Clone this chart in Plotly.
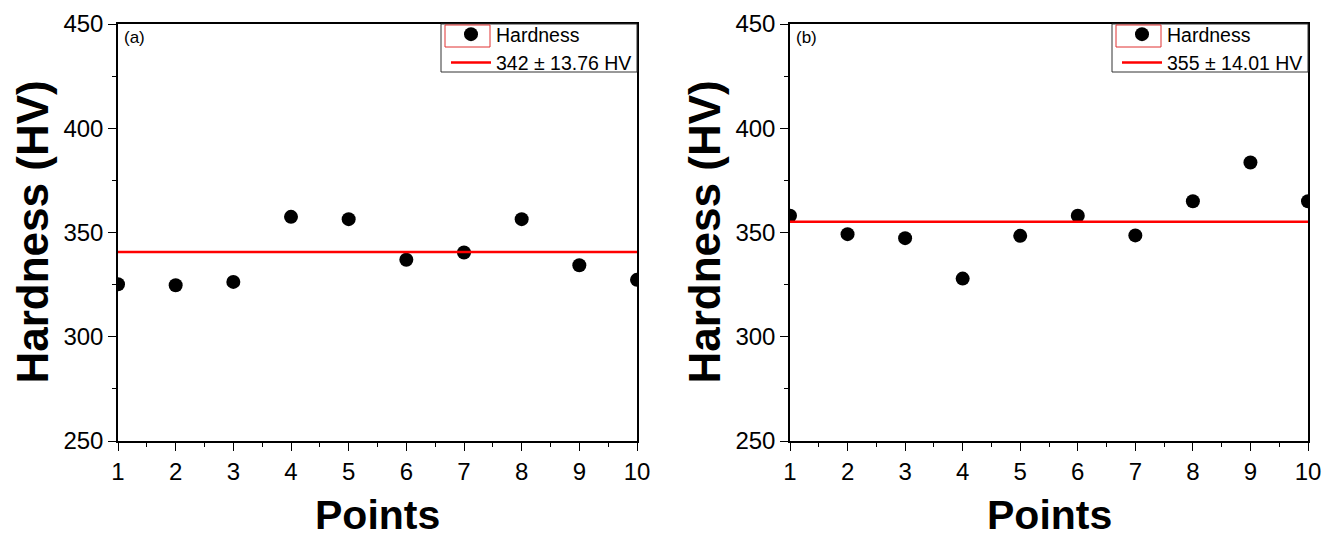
import plotly.graph_objects as go

points = [1, 2, 3, 4, 5, 6, 7, 8, 9, 10]
hardness_a = [325.2, 324.7, 326.3, 357.5, 356.4, 336.9, 340.4, 356.4, 334.3, 327.3]
hardness_b = [358.0, 349.2, 347.3, 327.9, 348.4, 358.0, 348.6, 365.0, 383.6, 365.0]
mean_a = 340.6
mean_b = 355.1
legend_a = "342 ± 13.76 HV"
legend_b = "355 ± 14.01 HV"
panel_labels = ["(a)", "(b)"]
y_ticks = [250, 300, 350, 400, 450]
x_ticks = points

FONT = "Liberation Sans, Arial, sans-serif"
fig = go.Figure()

panels = [
    (hardness_a, mean_a, legend_a, "x", "y", "legend"),
    (hardness_b, mean_b, legend_b, "x2", "y2", "legend2"),
]
for vals, mean, lab, xa, ya, lg in panels:
    fig.add_trace(go.Scatter(
        x=points, y=vals, mode="markers", name="Hardness",
        marker=dict(color="black", size=14, symbol="circle"),
        xaxis=xa, yaxis=ya, legend=lg))
    fig.add_trace(go.Scatter(
        x=[points[0], points[-1]], y=[mean, mean], mode="lines", name=lab,
        line=dict(color="#ff0000", width=2.5),
        xaxis=xa, yaxis=ya, legend=lg))

W, H = 1322, 535


def px(x):
    return x / W


def py(y):
    return 1 - y / H


doms_x = [(px(118), px(637)), (px(790), px(1308))]
dom_y = (py(441), py(24))

axis_common = dict(
    showline=True, linecolor="black", linewidth=1.5, mirror=True,
    ticks="outside", ticklen=8, tickwidth=1.3, tickcolor="black",
    showgrid=False, zeroline=False,
    tickfont=dict(family=FONT, size=24, color="black"),
)

layout = dict(
    width=W, height=H,
    margin=dict(l=0, r=0, t=0, b=0, autoexpand=False),
    paper_bgcolor="white", plot_bgcolor="white",
    showlegend=True,
)
for i, (dx, suf) in enumerate(zip(doms_x, ["", "2"])):
    layout["xaxis" + suf] = dict(
        axis_common, domain=list(dx), range=[1, 10], tickvals=x_ticks,
        minor=dict(ticks="outside", ticklen=4, tickcolor="black", dtick=0.5, tick0=1),
        anchor="y" + suf)
    layout["yaxis" + suf] = dict(
        axis_common, domain=list(dom_y), range=[250, 450], tickvals=y_ticks,
        minor=dict(ticks="outside", ticklen=4, tickcolor="black", dtick=25, tick0=250),
        anchor="x" + suf)
    layout["legend" + ("" if i == 0 else "2")] = dict(
        x=dx[1], y=py(15), xanchor="right", yanchor="top",
        xref="paper", yref="paper",
        borderwidth=0, bgcolor="rgba(255,255,255,0)",
        font=dict(family=FONT, size=19.5, color="black"),
        tracegroupgap=0, itemwidth=40)

fig.update_layout(**layout)

annotations = []
shapes = []
rights = [637, 1308]
title_x = [32, 704]
for i, dx in enumerate(doms_x):
    annotations.append(dict(
        text=panel_labels[i], x=dx[0] + 4 / W, y=dom_y[1] - 2 / H,
        xref="paper", yref="paper", xanchor="left", yanchor="top",
        showarrow=False, font=dict(family=FONT, size=17, color="black")))
    annotations.append(dict(
        text="<b>Points</b>", x=(dx[0] + dx[1]) / 2, y=py(515),
        xref="paper", yref="paper", xanchor="center", yanchor="middle",
        showarrow=False, font=dict(family=FONT, size=41, color="black")))
    annotations.append(dict(
        text="<b>Hardness (HV)</b>", x=px(title_x[i]), y=(dom_y[0] + dom_y[1]) / 2,
        xref="paper", yref="paper", xanchor="center", yanchor="middle",
        textangle=-90, showarrow=False,
        font=dict(family=FONT, size=44, color="black")))
    r = rights[i]
    # legend frame
    shapes.append(dict(
        type="rect", xref="paper", yref="paper",
        x0=px(r - 196), x1=px(r), y0=py(72), y1=py(24),
        line=dict(color="#333333", width=1), fillcolor="white", layer="above"))
    # red frame around the legend symbol
    shapes.append(dict(
        type="rect", xref="paper", yref="paper",
        x0=px(r - 192), x1=px(r - 147), y0=py(47), y1=py(25),
        line=dict(color="#e03030", width=1), fillcolor="rgba(0,0,0,0)", layer="above"))
fig.update_layout(annotations=annotations, shapes=shapes)

fig.write_html("out.html", post_script="document.body.style.margin='0';",
               config={"displayModeBar": False})
